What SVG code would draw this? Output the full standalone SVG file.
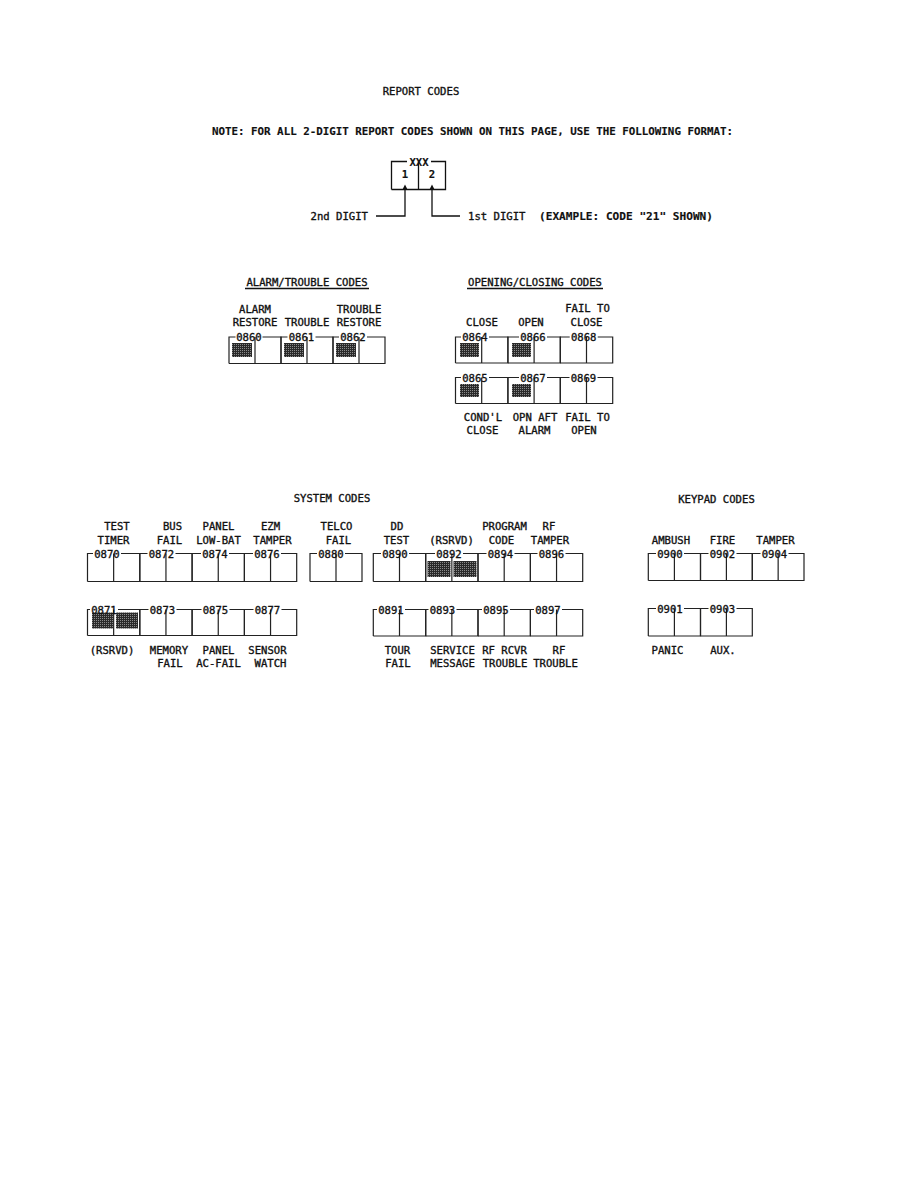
<svg xmlns="http://www.w3.org/2000/svg" width="918" height="1188" viewBox="0 0 918 1188">
<style>
.t{font-family:"DejaVu Sans Mono","Liberation Mono",monospace;font-size:10.6px;fill:#111;stroke:#111;stroke-width:0.35;text-anchor:middle}
.s{text-anchor:start}
.e{text-anchor:end}
.b{font-weight:bold;stroke-width:0.15}
.ln{fill:none;stroke:#111;stroke-width:1.3}
.bx{fill:none;stroke:#222;stroke-width:1.2}
</style>
<defs>
<pattern id="sh" width="2" height="2" patternUnits="userSpaceOnUse"><rect width="2" height="2" fill="#2a2a2a"/><rect width="1" height="1" fill="#8a8a8a"/></pattern>
</defs>
<rect width="918" height="1188" fill="#fff"/>

<g id="header">
<text class="t" x="421" y="95">REPORT CODES</text>
<text class="t s b" x="212" y="135" textLength="521" lengthAdjust="spacingAndGlyphs">NOTE: FOR ALL 2-DIGIT REPORT CODES SHOWN ON THIS PAGE, USE THE FOLLOWING FORMAT:</text>
</g>

<g id="example">
<path class="ln" d="M391.5,189.5V161.5H407M431,161.5H445.5V189.5H391.5M418.5,161.5V189.5"/>
<text class="t b" x="419" y="165.5">XXX</text>
<text class="t b" x="405" y="178">1</text>
<text class="t b" x="432" y="178">2</text>
<polygon points="402.5,189.5 407.5,189.5 405,184.5" fill="#111"/>
<polygon points="429.5,189.5 434.5,189.5 432,184.5" fill="#111"/>
<path class="ln" d="M405,190V216H376M432,190V216H460"/>
<text class="t e" x="368" y="220">2nd DIGIT</text>
<text class="t s" x="468" y="220">1st DIGIT</text>
<text class="t s b" x="539" y="220" textLength="174" lengthAdjust="spacingAndGlyphs">(EXAMPLE: CODE "21" SHOWN)</text>
</g>

<g id="alarm-trouble">
<text class="t" x="307" y="286">ALARM/TROUBLE CODES</text>
<path class="ln" d="M245,288.5H369" stroke-width="1"/>
<text class="t" x="255" y="313">ALARM</text>
<text class="t" x="255" y="326">RESTORE</text>
<text class="t" x="307" y="326">TROUBLE</text>
<text class="t" x="359" y="313">TROUBLE</text>
<text class="t" x="359" y="326">RESTORE</text>
<g id="c0860"><path class="bx" d="M229,363.5V337H235.5M262.5,337H281V363.5H229M255,337V363.5"/><rect x="232" y="343" width="20" height="14" fill="url(#sh)"/><text class="t" x="249" y="341">0860</text></g>
<g id="c0861"><path class="bx" d="M281,363.5V337H287.5M315.5,337H333V363.5H281M307,337V363.5"/><rect x="284" y="343" width="20" height="14" fill="url(#sh)"/><text class="t" x="301.5" y="341">0861</text></g>
<g id="c0862"><path class="bx" d="M333,363.5V337H339M367,337H385V363.5H333M359,337V363.5"/><rect x="336" y="343" width="20" height="14" fill="url(#sh)"/><text class="t" x="353" y="341">0862</text></g>
</g>

<g id="opening-closing">
<text class="t" x="535" y="286">OPENING/CLOSING CODES</text>
<path class="ln" d="M467,288.5H603" stroke-width="1"/>
<text class="t" x="482" y="326">CLOSE</text>
<text class="t" x="531" y="326">OPEN</text>
<text class="t" x="587.5" y="312">FAIL TO</text>
<text class="t" x="586.5" y="326">CLOSE</text>
<g id="c0864"><path class="bx" d="M455.5,363V337H461M489,337H507.9V363H455.5M481.7,337V363"/><rect x="460" y="343" width="19" height="14" fill="url(#sh)"/><text class="t" x="475" y="341">0864</text></g>
<g id="c0866"><path class="bx" d="M507.9,363V337H519M547,337H560.3V363H507.9M534.1,337V363"/><rect x="512" y="343" width="19" height="14" fill="url(#sh)"/><text class="t" x="533" y="341">0866</text></g>
<g id="c0868"><path class="bx" d="M560.3,363V337H569.7M597.7,337H612.7V363H560.3M586.5,337V363"/><text class="t" x="583.7" y="341">0868</text></g>
<g id="c0865"><path class="bx" d="M455.5,403.5V377.5H461M489,377.5H507.9V403.5H455.5M481.7,377.5V403.5"/><rect x="460" y="384" width="19" height="13" fill="url(#sh)"/><text class="t" x="475" y="381.5">0865</text></g>
<g id="c0867"><path class="bx" d="M507.9,403.5V377.5H519M547,377.5H560.3V403.5H507.9M534.1,377.5V403.5"/><rect x="512" y="384" width="19" height="13" fill="url(#sh)"/><text class="t" x="533" y="381.5">0867</text></g>
<g id="c0869"><path class="bx" d="M560.3,403.5V377.5H569.5M597.5,377.5H612.7V403.5H560.3M586.5,377.5V403.5"/><text class="t" x="583.5" y="381.5">0869</text></g>
<text class="t" x="483" y="420.5">COND'L</text>
<text class="t" x="535" y="420.5">OPN AFT</text>
<text class="t" x="587.5" y="420.5">FAIL TO</text>
<text class="t" x="482.5" y="434">CLOSE</text>
<text class="t" x="534.5" y="434">ALARM</text>
<text class="t" x="584" y="434">OPEN</text>
</g>

<g id="system-codes">
<text class="t" x="332" y="502">SYSTEM CODES</text>
<text class="t" x="117" y="529.5">TEST</text>
<text class="t" x="113.5" y="543.5">TIMER</text>
<text class="t" x="172.5" y="529.5">BUS</text>
<text class="t" x="169.5" y="543.5">FAIL</text>
<text class="t" x="218.5" y="529.5">PANEL</text>
<text class="t" x="218.5" y="543.5">LOW-BAT</text>
<text class="t" x="270.5" y="529.5">EZM</text>
<text class="t" x="272.5" y="543.5">TAMPER</text>
<text class="t" x="336.5" y="529.5">TELCO</text>
<text class="t" x="338.5" y="543.5">FAIL</text>
<text class="t" x="397" y="529.5">DD</text>
<text class="t" x="396.5" y="543.5">TEST</text>
<text class="t" x="451.5" y="543.5">(RSRVD)</text>
<text class="t" x="504.5" y="529.5">PROGRAM</text>
<text class="t" x="501.5" y="543.5">CODE</text>
<text class="t" x="549" y="529.5">RF</text>
<text class="t" x="550" y="543.5">TAMPER</text>

<g id="c0870"><path class="bx" d="M87.5,581.5V553.5H93M121,553.5H139.8V581.5H87.5M113.65,553.5V581.5"/><text class="t" x="107" y="557.5">0870</text></g>
<g id="c0872"><path class="bx" d="M139.8,581.5V553.5H147.5M175.5,553.5H192.1V581.5H139.8M165.95,553.5V581.5"/><text class="t" x="161.5" y="557.5">0872</text></g>
<g id="c0874"><path class="bx" d="M192.1,581.5V553.5H201M229,553.5H244.4V581.5H192.1M218.25,553.5V581.5"/><text class="t" x="215" y="557.5">0874</text></g>
<g id="c0876"><path class="bx" d="M244.4,581.5V553.5H253M281,553.5H296.7V581.5H244.4M270.55,553.5V581.5"/><text class="t" x="267" y="557.5">0876</text></g>
<g id="c0880"><path class="bx" d="M310,581.5V553.5H317M345,553.5H362V581.5H310M336,553.5V581.5"/><text class="t" x="331" y="557.5">0880</text></g>
<g id="c0890"><path class="bx" d="M373.3,581.5V553.5H381M409,553.5H425.7V581.5H373.3M399.5,553.5V581.5"/><text class="t" x="395" y="557.5">0890</text></g>
<g id="c0892"><path class="bx" d="M425.7,581.5V553.5H435M463,553.5H478V581.5H425.7M451.85,553.5V581.5"/><rect x="427.5" y="561" width="23" height="16" fill="url(#sh)"/><rect x="453.5" y="561" width="23" height="16" fill="url(#sh)"/><text class="t" x="449" y="557.5">0892</text></g>
<g id="c0894"><path class="bx" d="M478,581.5V553.5H486.5M514.5,553.5H530.4V581.5H478M504.2,553.5V581.5"/><text class="t" x="500.5" y="557.5">0894</text></g>
<g id="c0896"><path class="bx" d="M530.4,581.5V553.5H537.5M565.5,553.5H582.7V581.5H530.4M556.55,553.5V581.5"/><text class="t" x="551.5" y="557.5">0896</text></g>

<g id="c0871"><path class="bx" d="M87.5,635.5V609.5H90M118,609.5H139.8V635.5H87.5M113.65,609.5V635.5"/><rect x="92" y="612.5" width="21" height="16" fill="url(#sh)"/><rect x="116" y="612.5" width="22" height="16" fill="url(#sh)"/><text class="t" x="104" y="613.5">0871</text></g>
<g id="c0873"><path class="bx" d="M139.8,635.5V609.5H148.5M176.5,609.5H192.1V635.5H139.8M165.95,609.5V635.5"/><text class="t" x="162.5" y="613.5">0873</text></g>
<g id="c0875"><path class="bx" d="M192.1,635.5V609.5H201.5M229.5,609.5H244.4V635.5H192.1M218.25,609.5V635.5"/><text class="t" x="215.5" y="613.5">0875</text></g>
<g id="c0877"><path class="bx" d="M244.4,635.5V609.5H253.5M281.5,609.5H296.7V635.5H244.4M270.55,609.5V635.5"/><text class="t" x="267.5" y="613.5">0877</text></g>
<g id="c0891"><path class="bx" d="M373.3,636V609.5H377M405,609.5H425.7V636H373.3M399.5,609.5V636"/><text class="t" x="391" y="613.5">0891</text></g>
<g id="c0893"><path class="bx" d="M425.7,636V609.5H428.5M456.5,609.5H478V636H425.7M451.85,609.5V636"/><text class="t" x="442.5" y="613.5">0893</text></g>
<g id="c0895"><path class="bx" d="M478,636V609.5H482M510,609.5H530.4V636H478M504.2,609.5V636"/><text class="t" x="496" y="613.5">0895</text></g>
<g id="c0897"><path class="bx" d="M530.4,636V609.5H534M562,609.5H582.7V636H530.4M556.55,609.5V636"/><text class="t" x="548" y="613.5">0897</text></g>

<text class="t" x="112" y="654">(RSRVD)</text>
<text class="t" x="169" y="654">MEMORY</text>
<text class="t" x="170" y="667">FAIL</text>
<text class="t" x="218.5" y="654">PANEL</text>
<text class="t" x="218.5" y="667">AC-FAIL</text>
<text class="t" x="267.5" y="654">SENSOR</text>
<text class="t" x="270.5" y="667">WATCH</text>
<text class="t" x="397.5" y="654">TOUR</text>
<text class="t" x="398" y="667">FAIL</text>
<text class="t" x="452.5" y="654">SERVICE</text>
<text class="t" x="452.5" y="667">MESSAGE</text>
<text class="t" x="504.5" y="654">RF RCVR</text>
<text class="t" x="505" y="667">TROUBLE</text>
<text class="t" x="559" y="654">RF</text>
<text class="t" x="555.5" y="667">TROUBLE</text>
</g>

<g id="keypad-codes">
<text class="t" x="716.5" y="503">KEYPAD CODES</text>
<text class="t" x="671" y="543.5">AMBUSH</text>
<text class="t" x="722.5" y="543.5">FIRE</text>
<text class="t" x="775.5" y="543.5">TAMPER</text>
<g id="c0900"><path class="bx" d="M648.3,580.5V553.5H656M684,553.5H700.5V580.5H648.3M674.4,553.5V580.5"/><text class="t" x="670" y="557.5">0900</text></g>
<g id="c0902"><path class="bx" d="M700.5,580.5V553.5H708.5M736.5,553.5H752.3V580.5H700.5M726.4,553.5V580.5"/><text class="t" x="722.5" y="557.5">0902</text></g>
<g id="c0904"><path class="bx" d="M752.3,580.5V553.5H760.5M788.5,553.5H804V580.5H752.3M778.15,553.5V580.5"/><text class="t" x="774.5" y="557.5">0904</text></g>
<g id="c0901"><path class="bx" d="M648.3,636V608.5H656M684,608.5H700.5V636H648.3M674.4,608.5V636"/><text class="t" x="670" y="612.5">0901</text></g>
<g id="c0903"><path class="bx" d="M700.5,636V608.5H708.5M736.5,608.5H752.3V636H700.5M726.4,608.5V636"/><text class="t" x="722.5" y="612.5">0903</text></g>
<text class="t" x="667.5" y="653.5">PANIC</text>
<text class="t" x="723" y="653.5">AUX.</text>
</g>
</svg>
